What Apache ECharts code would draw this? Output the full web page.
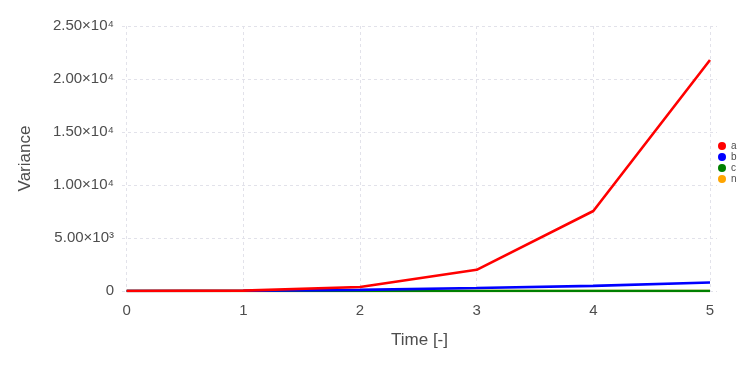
<!DOCTYPE html>
<html>
<head>
<meta charset="utf-8">
<script src="https://cdn.jsdelivr.net/npm/echarts@6/dist/echarts.min.js"></script>
<style>
  html, body { margin: 0; padding: 0; background: #fff; }
  #chart { width: 756px; height: 378px; }
</style>
</head>
<body>
<div id="chart"></div>
<script>
const times = [0, 1, 2, 3, 4, 5];
const seriesNames = ['a', 'b', 'c', 'n'];
const seriesColors = ['#ff0000', '#0000ff', '#008000', '#ffa500'];
const valuesA = [0, 40, 380, 2000, 7550, 21800];
const valuesB = [0, 20, 110, 280, 480, 800];
const valuesC = [0, 0, 0, 0, 0, 0];
const valuesN = [0, 0, 0, 0, 0, 0];
const yTicks = [0, 5000, 10000, 15000, 20000, 25000];
const yTickLabels = ['0', '5.00×10³', '1.00×10⁴', '1.50×10⁴', '2.00×10⁴', '2.50×10⁴'];

const allValues = [valuesA, valuesB, valuesC, valuesN];
const chart = echarts.init(document.getElementById('chart'));

const font = 'Liberation Sans, Arial, sans-serif';
const textColor = '#4d4d4d';

const option = {
    backgroundColor: '#fff',
    animation: false,
    textStyle: { fontFamily: font },
    grid: { left: 122, right: 39, top: 26, bottom: 87 },
    legend: {
        orient: 'vertical',
        left: 713,
        top: 136,
        icon: 'circle',
        itemWidth: 8,
        itemHeight: 8,
        itemGap: 1,
        textStyle: { fontSize: 10, lineHeight: 10, color: textColor, padding: [0, 0, 0, 0] },
        data: seriesNames
    },
    xAxis: {
        type: 'value',
        min: -0.04,
        max: 5.06,
        name: 'Time [-]',
        nameLocation: 'middle',
        nameGap: 41,
        nameTextStyle: { fontSize: 17, color: textColor },
        axisLine: { show: false },
        axisTick: { show: false, customValues: times },
        axisLabel: { customValues: times, fontSize: 15, color: textColor, margin: 12 },
        splitLine: { show: true, lineStyle: { color: '#e2e2ea', type: [3, 3] } }
    },
    yAxis: {
        type: 'value',
        min: 0,
        max: 25000,
        interval: 5000,
        name: 'Variance',
        nameLocation: 'middle',
        nameGap: 88,
        nameTextStyle: { fontSize: 17, color: textColor },
        axisLine: { show: false },
        axisTick: { show: false },
        axisLabel: {
            fontSize: 15,
            color: textColor,
            margin: 8,
            formatter: v => yTickLabels[yTicks.indexOf(v)] ?? ''
        },
        splitLine: { show: true, lineStyle: { color: '#e2e2ea', type: [3, 3] } }
    },
    series: seriesNames.map((name, i) => ({
        name: name,
        type: 'line',
        data: times.map((t, j) => [t, allValues[i][j]]),
        symbol: 'none',
        color: seriesColors[i],
        lineStyle: { width: 2.6, color: seriesColors[i] },
        z: 10 - i
    }))
};

chart.setOption(option);
</script>
</body>
</html>
